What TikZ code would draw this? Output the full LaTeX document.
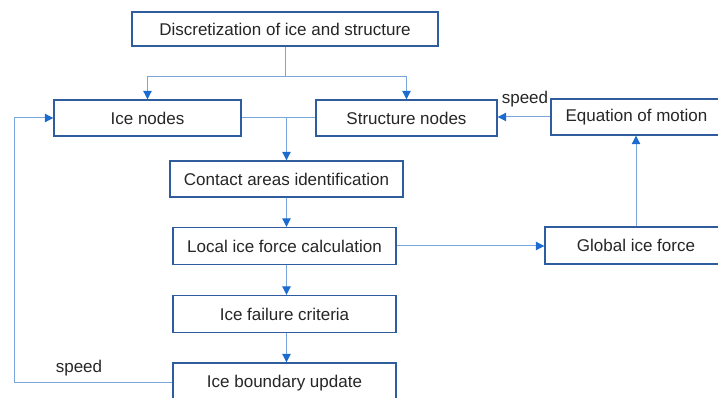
\documentclass[tikz,border=0pt]{standalone}
\usepackage{fontspec}
\setmainfont{Liberation Sans}
\usetikzlibrary{arrows.meta}
\definecolor{boxblue}{HTML}{2F5C9C}
\definecolor{lineblue}{HTML}{7AA6DE}
\definecolor{tipblue}{HTML}{1C6CCF}
\definecolor{ink}{HTML}{262626}
\tikzset{
  stepbox/.style={draw=boxblue, line width=1.4pt, fill=white, text=ink,
    font=\fontsize{17}{20}\selectfont, inner sep=0pt, anchor=center},
  link/.style={draw=lineblue, line width=1pt},
  flow/.style={link, -{Triangle[length=8.5pt,width=8.5pt,color=tipblue]}},
  tag/.style={text=ink, font=\fontsize{17}{20}\selectfont, inner sep=0pt}
}
\begin{document}
\begin{tikzpicture}[x=1pt,y=-1pt]
\path[use as bounding box] (0,0) rectangle (718,398);
\clip (0,0) rectangle (718,398);

% boxes
\node[stepbox, minimum width=306pt, minimum height=34pt] (disc) at (285,29) {Discretization of ice and structure};
\node[stepbox, minimum width=187pt, minimum height=36pt] (ice) at (147.5,118) {Ice nodes};
\node[stepbox, minimum width=181pt, minimum height=36pt] (struct) at (406.5,118) {Structure nodes};
\node[stepbox, minimum width=171pt, minimum height=36pt] (eq) at (636.5,117) {Equation of motion};
\node[stepbox, minimum width=233pt, minimum height=36pt] (contact) at (286.5,179) {Contact areas identification};
\node[stepbox, minimum width=223pt, minimum height=37pt] (local) at (284.5,246) {Local ice force calculation};
\node[stepbox, minimum width=182pt, minimum height=37pt] (global) at (636,245.5) {Global ice force};
\node[stepbox, minimum width=223pt, minimum height=37pt] (fail) at (284.5,314) {Ice failure criteria};
\node[stepbox, minimum width=223pt, minimum height=41pt] (bound) at (284.5,383.5) {Ice boundary update};

% split from the discretization step
\draw[link] (disc.south) -- ++(0,30) coordinate (split);
\draw[flow] (split) -| (ice.north);
\draw[flow] (split) -| (struct.north);

% ice and structure nodes feed the contact search
\draw[link] (ice.east) -- (struct.west);
\coordinate (join) at (286.5,118);
\draw[flow] (join) -- (contact.north);

% main chain
\draw[flow] (contact.south) -- (contact.south |- local.north);
\draw[flow] (contact.south |- local.south) -- (contact.south |- fail.north);
\draw[flow] (contact.south |- fail.south) -- (contact.south |- bound.north);

% global force and structural response
\draw[flow] (local.east) -- (local.east -| global.west);
\draw[flow] (global.north) -- (global.north |- eq.south);
\draw[flow] (eq.west) -- (eq.west -| struct.east);
\node[tag] (speedA) at (525,99) {speed};

% ice speed feedback loop
\coordinate (loopB) at (14,382);
\coordinate (loopT) at (14,118);
\draw[flow] (bound.west |- loopB) -- (loopB) -- (loopT) -- (ice.west);
\node[tag] (speedB) at (79,368) {speed};
\end{tikzpicture}
\end{document}
